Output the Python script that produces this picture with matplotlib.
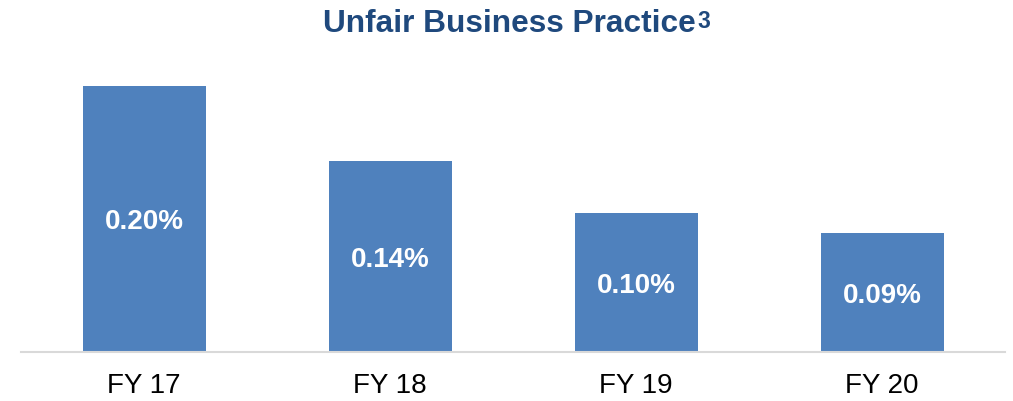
import matplotlib
matplotlib.use("Agg")
from matplotlib import pyplot as plt

# Chart data
years = ["FY 17", "FY 18", "FY 19", "FY 20"]
rates = [0.200, 0.1436, 0.1045, 0.0895]
rateLabels = ["0.20%", "0.14%", "0.10%", "0.09%"]

plt.rcParams['font.family'] = ['Liberation Sans', 'DejaVu Sans']

barColor = "#4F81BD"
titleColor = "#1F497D"

fig = plt.figure(figsize=(10.13, 4.01), dpi=100)
ax = fig.add_axes([21 / 1013, 49 / 401, 984 / 1013, 332.5 / 401])

positions = range(len(years))
bars = ax.bar(positions, rates, width=0.5, color=barColor)

# Value labels in the middle of each bar
for bar, label in zip(bars, rateLabels):
    ax.annotate(label, (bar.get_x() + bar.get_width() / 2,
                        bar.get_height() / 2),
                xytext=(0, -2.2), textcoords="offset points",
                ha="center", va="center", color="white", fontsize=20,
                fontweight="bold")

ax.set_xlim(-0.5, 3.5)
ax.set_ylim(0, 0.25)
ax.set_xticks(list(positions))
ax.set_xticklabels(years, fontsize=20)
ax.tick_params(axis="x", length=0, pad=15)
ax.set_yticks([])

for side in ["top", "left", "right"]:
    ax.spines[side].set_visible(False)
ax.spines["bottom"].set_color("#D9D9D9")
ax.spines["bottom"].set_linewidth(1.5)

# Title with a superscript note mark
titleBase = (401 - 32) / 401
title = fig.text(509 / 1013, titleBase, "Unfair Business Practice",
                 ha="center", va="baseline", fontsize=22.8,
                 fontweight="bold", color=titleColor)
renderer = fig.canvas.get_renderer()
right = title.get_window_extent(renderer).x1
fig.text((right + 2) / 1013, titleBase + 4 / 401, "3", ha="left",
         va="baseline", fontsize=16.5, fontweight="bold", color=titleColor)

fig.savefig("out.png", dpi=100)
